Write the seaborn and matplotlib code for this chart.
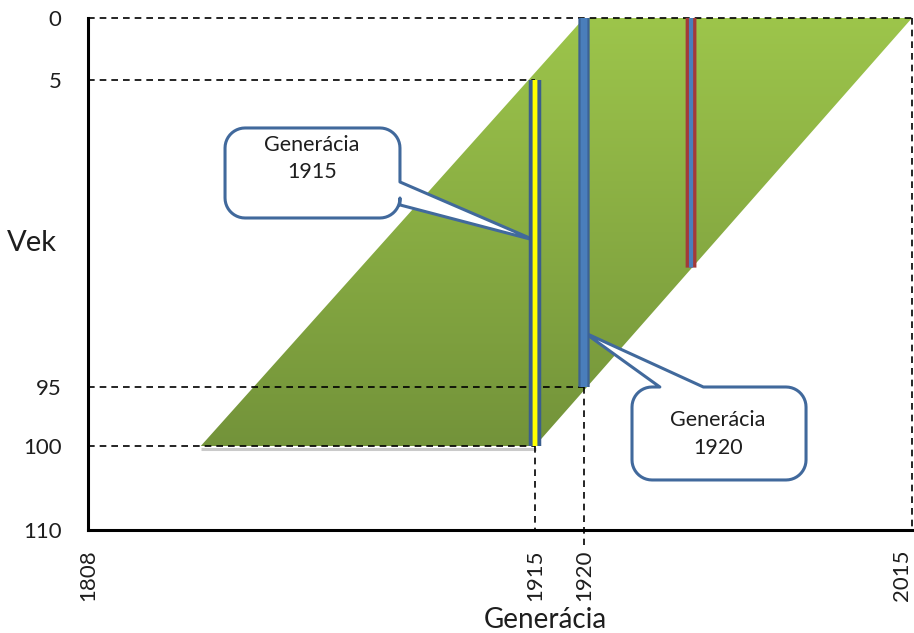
import numpy as np
import matplotlib
matplotlib.use("Agg")
import matplotlib.pyplot as plt
from matplotlib.patches import Polygon
from matplotlib.transforms import IdentityTransform, offset_copy
from matplotlib.colors import LinearSegmentedColormap
import seaborn as sns

# ---- data -------------------------------------------------------------
year_ticks = [1808, 1915, 1920, 2015]
age_ticks = [0, 5, 95, 100, 110]

# Lexis band of the living population (corners: year, age)
band_year = [1920, 2015, 1915, 1835]
band_age = [0, 0, 100, 100]

# cohort life lines
cohort_year = [1915, 1920, 1951]
cohort_age_from = [5, 0, 0]
cohort_age_to = [100, 95, 60]

# callouts: cohort and age where the pointer meets its life line
callout_year = [1915, 1920]
callout_age = [52, 79]

# ---- schematic (piecewise) axis scales ---------------------------------
X_BREAKS = [88, 535, 584, 912]
Y_BREAKS = [18, 80, 387, 446, 530]


def piecewise(src, dst):
    src = np.asarray(src, float)
    dst = np.asarray(dst, float)

    def _map(v, a, b):
        v = np.asarray(v, float)
        shape = v.shape
        v = np.atleast_1d(v).ravel()
        out = np.interp(v, a, b)
        lo = v < a[0]
        hi = v > a[-1]
        out[lo] = b[0] + (v[lo] - a[0]) * (b[1] - b[0]) / (a[1] - a[0])
        out[hi] = b[-1] + (v[hi] - a[-1]) * (b[-1] - b[-2]) / (a[-1] - a[-2])
        return out.reshape(shape)

    return (lambda v: _map(v, src, dst), lambda v: _map(v, dst, src))


sns.set_theme(style="white")
plt.rcParams["font.family"] = ["Lato", "DejaVu Sans"]
TEXT = "#1e1e1e"

W, H = 914, 633
fig = plt.figure(figsize=(W / 100, H / 100), dpi=100)
ax = fig.add_axes([X_BREAKS[0] / W, (H - Y_BREAKS[-1]) / H,
                   (X_BREAKS[-1] - X_BREAKS[0]) / W,
                   (Y_BREAKS[-1] - Y_BREAKS[0]) / H])
ax.set_xscale("function", functions=piecewise(year_ticks, X_BREAKS))
ax.set_yscale("function", functions=piecewise(age_ticks, Y_BREAKS))
ax.set_xlim(year_ticks[0], year_ticks[-1])
ax.set_ylim(age_ticks[-1], age_ticks[0])

# ---- green band with vertical gradient ---------------------------------
# faint shadow under the lower edge of the band
sns.lineplot(x=[band_year[3], band_year[2]], y=[band_age[3], band_age[2]],
             estimator=None, sort=False, ax=ax, color="#8a8a8a", lw=2.2,
             alpha=0.45, zorder=0.9, solid_capstyle="butt",
             transform=offset_copy(ax.transData, fig=fig, x=0.5, y=-1.8,
                                   units="points"))
band = Polygon(list(zip(band_year, band_age)), closed=True,
               facecolor="none", edgecolor="none", zorder=1)
ax.add_patch(band)
band_bottom = ax.transAxes.inverted().transform(
    ax.transData.transform((band_year[2], band_age[2])))[1]
cmap = LinearSegmentedColormap.from_list("band", ["#9DC54B", "#73933A"])
grad = np.linspace(0, 1, 256).reshape(-1, 1)
im = ax.imshow(grad, cmap=cmap, aspect="auto", origin="upper",
               extent=[0, 1, band_bottom, 1], transform=ax.transAxes,
               zorder=1, interpolation="bilinear")
im.set_clip_path(band)
ax.set_xlim(year_ticks[0], year_ticks[-1])
ax.set_ylim(age_ticks[-1], age_ticks[0])

# ---- dashed guides -----------------------------------------------------
dash = dict(color="black", lw=1.2, linestyle=(0, (4.0, 3.0)), zorder=2,
            estimator=None, sort=False, ax=ax, clip_on=False)
guides = [
    ([year_ticks[0], year_ticks[-1]], [0, 0]),
    ([year_ticks[0], cohort_year[0]], [cohort_age_from[0]] * 2),
    ([year_ticks[0], cohort_year[1]], [cohort_age_to[1]] * 2),
    ([year_ticks[0], cohort_year[0]], [cohort_age_to[0]] * 2),
    ([cohort_year[0]] * 2, [cohort_age_to[0], age_ticks[-1]]),
    ([cohort_year[1]] * 2, [cohort_age_to[1], 111.8]),
    ([year_ticks[-1]] * 2, [0, age_ticks[-1]]),
]
for gx, gy in guides:
    sns.lineplot(x=gx, y=gy, **dash)

# ---- cohort life lines (outlined bars) ---------------------------------
fills = ["#FFFF00", "#4A7EBB", "#4A7EBB"]
edges = ["#3A5E8E", "#3C6294", "#A33A3A"]
outer_px = [12.5, 11.3, 10.8]
inner_px = [4.8, 6.8, 4.2]
for yr, a0, a1, fc, ec, wo, wi in zip(cohort_year, cohort_age_from,
                                      cohort_age_to, fills, edges,
                                      outer_px, inner_px):
    for col, w, z in ((ec, wo, 4), (fc, wi, 4.1)):
        sns.lineplot(x=[yr, yr], y=[a0, a1], estimator=None, sort=False,
                     ax=ax, color=col, lw=w * 0.72, solid_capstyle="butt",
                     zorder=z, snap=False)

# ---- axes styling ------------------------------------------------------
for side in ("top", "right"):
    ax.spines[side].set_visible(False)
for side in ("left", "bottom"):
    ax.spines[side].set_color("black")
    ax.spines[side].set_linewidth(2.2)
    ax.spines[side].set_zorder(6)
ax.set_xticks(year_ticks)
ax.set_xticklabels([str(v) for v in year_ticks], rotation=90, color=TEXT,
                   fontsize=16)
ax.get_xticklabels()[-1].set_ha("right")
ax.set_yticks(age_ticks)
ax.set_yticklabels([str(v) for v in age_ticks], color=TEXT, fontsize=16)
ax.tick_params(axis="x", length=0, pad=14)
ax.tick_params(axis="y", length=0, pad=19)
ax.minorticks_off()
ax.grid(False)
ax.set_xlabel("Generácia", fontsize=20, color=TEXT)
ax.xaxis.set_label_coords(0.555, -0.176)
ax.xaxis.label.set_va("center")
ax.set_ylabel("Vek", fontsize=21, color=TEXT, rotation=0)
ax.yaxis.set_label_coords(-0.068, 0.56)
ax.yaxis.label.set_va("center")
ax.yaxis.label.set_ha("center")


# ---- callouts ----------------------------------------------------------
def rounded_callout(x0, y0, x1, y1, r, side, b0, b1, tip):
    """Outline of a rounded box (display px) with a wedge pointing to tip."""
    def arc(cx, cy, a_start, a_end):
        t = np.radians(np.linspace(a_start, a_end, 12))
        return list(zip(cx + r * np.cos(t), cy + r * np.sin(t)))

    pts = []
    pts += arc(x1 - r, y0 + r, -90, 0)            # bottom-right
    if side == "right":                           # going up the right edge
        pts += [(x1, b0), tip, (x1, b1)]
    pts += arc(x1 - r, y1 - r, 0, 90)             # top-right
    if side == "top":                             # going left on top edge
        pts += [(b1, y1), tip, (b0, y1)]
    pts += arc(x0 + r, y1 - r, 90, 180)           # top-left
    pts += arc(x0 + r, y0 + r, 180, 270)          # bottom-left
    return pts


fig.canvas.draw()
boxes = [
    dict(box=(0.1663, 0.6094, 0.3786, 0.7852), side="right",
         base=(0.145, 0.40), text_x=0.272, text_y=(0.752, 0.699)),
    dict(box=(0.6602, 0.0977, 0.8714, 0.2793), side="top",
         base=(0.16, 0.41), text_x=0.7646, text_y=(0.215, 0.160)),
]
for spec, yr, age in zip(boxes, callout_year, callout_age):
    bx0, by0, bx1, by1 = spec["box"]
    (x0, y0), (x1, y1) = ax.transAxes.transform([(bx0, by0), (bx1, by1)])
    tip = tuple(ax.transData.transform((yr, age)))
    if spec["side"] == "right":
        b0 = y0 + spec["base"][0] * (y1 - y0)
        b1 = y0 + spec["base"][1] * (y1 - y0)
    else:
        b0 = x0 + spec["base"][0] * (x1 - x0)
        b1 = x0 + spec["base"][1] * (x1 - x0)
    pts = rounded_callout(x0, y0, x1, y1, 20, spec["side"], b0, b1, tip)
    ax.add_artist(Polygon(pts, closed=True, facecolor="white",
                          edgecolor="#41699C", lw=2.2, joinstyle="round",
                          transform=IdentityTransform(), zorder=3,
                          clip_on=False))
    ax.text(spec["text_x"], spec["text_y"][0], "Generácia",
            transform=ax.transAxes, ha="center", va="center", fontsize=15.5,
            color=TEXT, zorder=5)
    ax.text(spec["text_x"], spec["text_y"][1], str(yr),
            transform=ax.transAxes, ha="center", va="center", fontsize=15.5,
            color=TEXT, zorder=5)

fig.savefig("out.png", dpi=100)
